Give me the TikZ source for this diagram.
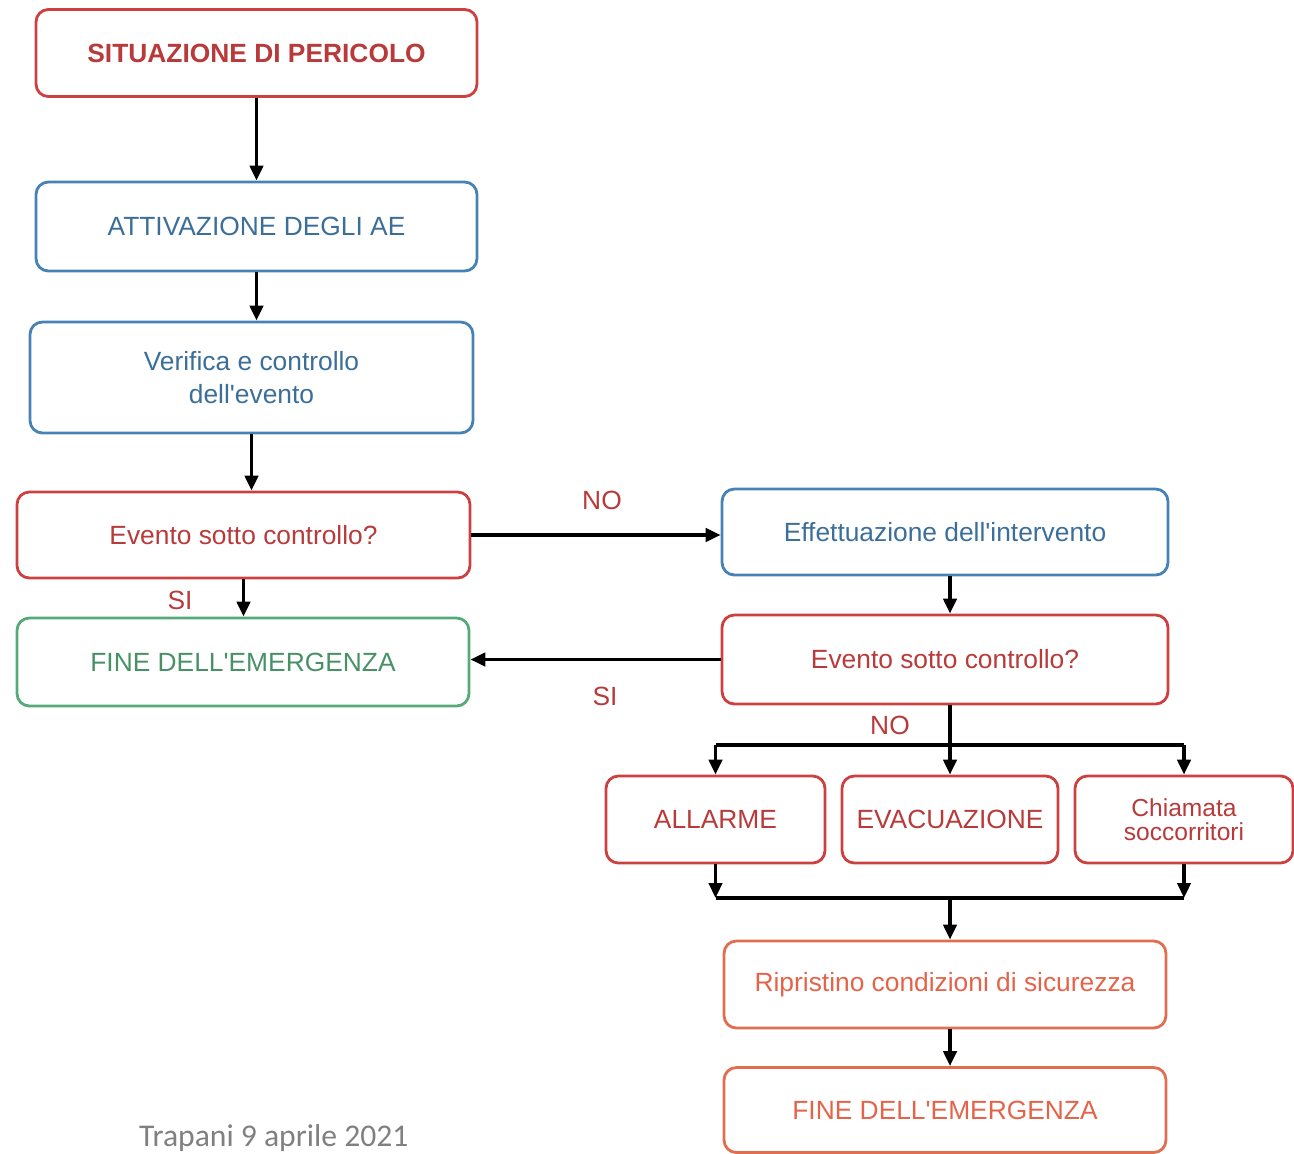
\documentclass[tikz,border=0pt]{standalone}
\usepackage{fontspec}
\setmainfont{Liberation Sans}
\newfontfamily\datefont{Carlito}
\usetikzlibrary{arrows.meta}
\definecolor{pericolo}{RGB}{204,64,64}
\definecolor{azione}{RGB}{70,130,180}
\definecolor{fine}{RGB}{85,170,120}
\definecolor{ripristino}{RGB}{226,110,80}
\definecolor{data}{RGB}{128,128,128}

\begin{document}
\begin{tikzpicture}[x=0.02cm, y=-0.02cm,
    every node/.style={font=\fontsize{15}{19}\selectfont},
    box/.style={draw, rounded corners=7pt, line width=1.6pt, align=center,
        inner sep=0pt, minimum height=1.74cm},
    redbox/.style={box, draw=pericolo, text=pericolo!90!black},
    bluebox/.style={box, draw=azione, text=azione!85!black},
    greenbox/.style={box, draw=fine, text=fine!85!black},
    orangebox/.style={box, draw=ripristino, text=ripristino!90!red},
    answer/.style={text=pericolo!90!black},
    flow/.style={-{Triangle[length=8.5pt,width=7.5pt]}, line width=2pt},
    wire/.style={line width=2pt}]
    \useasboundingbox (0, 0) rectangle (1294, 1153);

    % left column
    \node[redbox, minimum width=8.82cm, font=\fontsize{15}{19}\selectfont\bfseries]
        (pericolo) at (256.5, 53) {SITUAZIONE DI PERICOLO};
    \node[bluebox, minimum width=8.82cm, minimum height=1.78cm]
        (attivazione) at (256.5, 226.5) {ATTIVAZIONE DEGLI AE};
    \node[bluebox, minimum width=8.86cm, minimum height=2.22cm]
        (verifica) at (251.5, 377.5) {Verifica e controllo\\dell\textquotesingle evento};
    \node[redbox, minimum width=9.06cm, minimum height=1.72cm]
        (controllo1) at (243.5, 535) {Evento sotto controllo?};
    \node[greenbox, minimum width=9.04cm, minimum height=1.76cm]
        (fine1) at (243, 662) {FINE DELL\textquotesingle EMERGENZA};

    % right column
    \node[bluebox, minimum width=8.92cm, minimum height=1.72cm]
        (intervento) at (945, 532) {Effettuazione dell\textquotesingle intervento};
    \node[redbox, minimum width=8.92cm, minimum height=1.78cm]
        (controllo2) at (945, 659.5) {Evento sotto controllo?};
    \node[redbox, minimum width=4.38cm] (allarme) at (715.5, 819.5) {ALLARME};
    \node[redbox, minimum width=4.32cm] (evacuazione) at (950, 819.5) {EVACUAZIONE};
    \node[redbox, minimum width=4.36cm, font=\fontsize{14}{14}\selectfont]
        (soccorritori) at (1184, 819.5) {Chiamata\\soccorritori};
    \node[orangebox, minimum width=8.84cm] (sicurezza) at (945, 984.5)
        {Ripristino condizioni di sicurezza};
    \node[orangebox, minimum width=8.84cm, minimum height=1.70cm] (fine2) at (945, 1110)
        {FINE DELL\textquotesingle EMERGENZA};

    \coordinate (split) at (950, 745);
    \coordinate (join) at (950, 898);

    % answers
    \node[answer] (no1) at (602, 500) {NO};
    \node[answer] (si1) at (180, 600) {SI};
    \node[answer] (si2) at (605, 696) {SI};
    \node[answer] (no2) at (890, 725) {NO};

    \draw[flow] (pericolo.south) -- (pericolo.south |- attivazione.north);
    \draw[flow] (attivazione.south) -- (attivazione.south |- verifica.north);
    \draw[flow] (verifica.south) -- (verifica.south |- controllo1.north);
    \draw[flow] (controllo1.south) -- (controllo1.south |- fine1.north);
    \draw[flow] (controllo1.east) -- (controllo1.east -| intervento.west);
    \draw[flow] (intervento.south -| evacuazione) -- (evacuazione |- controllo2.north);
    \draw[flow] (controllo2.west) -- (controllo2.west -| fine1.east);
    \draw[flow] (controllo2.south -| split) -- (evacuazione.north);
    \draw[wire] (split -| allarme) -- (split -| soccorritori);
    \draw[flow] (split -| allarme) -- (allarme.north);
    \draw[flow] (split -| soccorritori) -- (soccorritori.north);
    \draw[flow] (allarme.south) -- (join -| allarme);
    \draw[flow] (soccorritori.south) -- (join -| soccorritori);
    \draw[wire] (join -| allarme) -- (join -| soccorritori);
    \draw[flow] (join) -- (join |- sicurezza.north);
    \draw[flow] (sicurezza.south -| join) -- (join |- fine2.north);

    \node[anchor=base west, text=data, font=\datefont\fontsize{18}{22}\selectfont]
        (luogo) at (133, 1146) {Trapani 9 aprile 2021};
\end{tikzpicture}
\end{document}
